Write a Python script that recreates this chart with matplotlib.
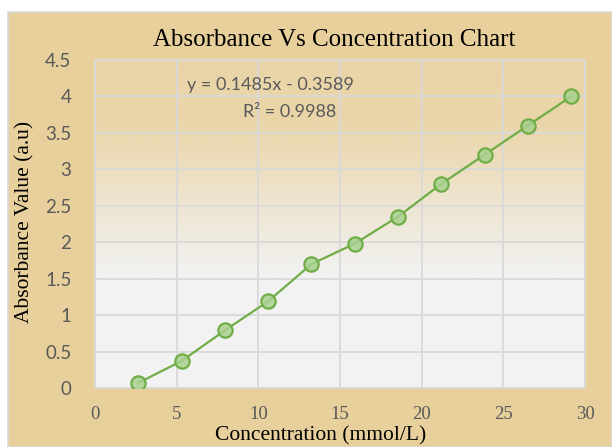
import numpy as np
import matplotlib
matplotlib.use('Agg')
import matplotlib.pyplot as plt
from matplotlib.colors import to_rgb

# data
concentration = [2.65, 5.3, 7.95, 10.6, 13.25, 15.9, 18.55, 21.2, 23.85, 26.5, 29.15]
absorbance = [0.07, 0.37, 0.79, 1.19, 1.70, 1.98, 2.35, 2.80, 3.20, 3.60, 4.00]
x_ticks = [0, 5, 10, 15, 20, 25, 30]
y_ticks = [0, 0.5, 1, 1.5, 2, 2.5, 3, 3.5, 4, 4.5]
y_tick_labels = ['0', '0.5', '1', '1.5', '2', '2.5', '3', '3.5', '4', '4.5']
equation = 'y = 0.1485x - 0.3589'
r_squared = 'R² = 0.9988'

parchment = '#e8d09c'
grid_col = '#d9d9d9'
green = '#70ad47'
serif = ['Liberation Serif', 'DejaVu Serif']
sans = ['Lato', 'DejaVu Sans']

fig = plt.figure(figsize=(6.12, 4.47), dpi=100)
fig.patch.set_facecolor('white')

# parchment panel behind everything (white strip top and left)
bg = fig.add_axes([8 / 612, 0, 1 - 8 / 612, 1 - 12 / 447], zorder=-5)
bg.set_xlim(0, 1)
bg.set_ylim(0, 1)
bg.set_facecolor(parchment)
for s in bg.spines.values():
    s.set_color(grid_col)
    s.set_linewidth(1.2)
bg.set_xticks([])
bg.set_yticks([])

ax = fig.add_axes([95 / 612, 1 - 388 / 447, 490 / 612, 328 / 447])
ax.set_facecolor('none')

# plot area gradient: transparent tan on top, light grey at the bottom
h = 200
grad = np.zeros((h, 2, 4))
grad[:, :, :3] = to_rgb('#f2f2f2')
t = np.linspace(0, 1, h)[:, None]  # 0 at bottom, 1 at top
grad[:, :, 3] = np.clip(1.0 - (t - 0.35) / 0.55, 0.15, 1.0)
ax.imshow(grad, origin='lower', extent=[0, 30, 0, 4.5], aspect='auto', zorder=0,
          interpolation='bilinear')

ax.set_xlim(0, 30)
ax.set_ylim(0, 4.5)
ax.set_xticks(x_ticks)
ax.set_yticks(y_ticks)
ax.set_yticklabels(y_tick_labels)
ax.grid(True, color=grid_col, linewidth=1.3, zorder=1)
ax.set_axisbelow(True)
for s in ax.spines.values():
    s.set_color(grid_col)
    s.set_linewidth(1.3)
ax.tick_params(length=0)
ax.tick_params(axis='y', pad=17)
ax.tick_params(axis='x', pad=13)
for lab in ax.get_xticklabels():
    lab.set_family(serif)
    lab.set_fontsize(13.5)
    lab.set_color('#595959')
for lab in ax.get_yticklabels():
    lab.set_family(sans)
    lab.set_fontsize(13.5)
    lab.set_color('#595959')

ax.plot(concentration, absorbance, color=green, linewidth=1.6, zorder=3,
        marker='o', markersize=10.3, markerfacecolor=(0.66, 0.82, 0.56, 0.85),
        markeredgecolor=green, markeredgewidth=1.6)

fig.text(270.5 / 612, 1 - 85 / 447, equation, ha='center', va='center',
         family=sans, fontsize=13, color='#595959')
fig.text(289.5 / 612, 1 - 112 / 447, r_squared, ha='center', va='center',
         family=sans, fontsize=13, color='#595959')

fig.text(334 / 612, 1 - 40 / 447, 'Absorbance Vs Concentration Chart', ha='center',
         va='center', family=serif, fontsize=18, color='black')
fig.text(321 / 612, 1 - 436 / 447, 'Concentration (mmol/L)', ha='center',
         va='center', family=serif, fontsize=15.5, color='black')
fig.text(25 / 612, 1 - 222 / 447, 'Absorbance Value (a.u)', ha='center',
         va='center', rotation=90, family=serif, fontsize=15.5, color='black')

fig.savefig('out.png', dpi=100)
